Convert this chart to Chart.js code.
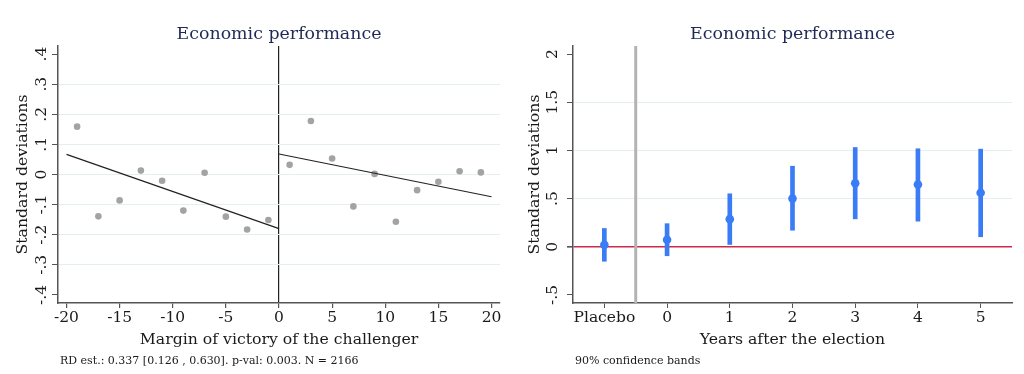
<!DOCTYPE html>
<html>
<head>
<meta charset="utf-8">
<script src="https://cdn.jsdelivr.net/npm/chart.js@4/dist/chart.umd.min.js"></script>
<style>
  html, body { margin: 0; padding: 0; background: #ffffff; }
  #wrap { position: relative; width: 1024px; height: 374px; overflow: hidden; }
  .panel { position: absolute; top: 0; width: 512px; height: 374px; }
  #p1 { left: 0; }
  #p2 { left: 512px; }
</style>
</head>
<body>
<div id="wrap">
  <div class="panel" id="p1"><canvas id="c1" width="512" height="374"></canvas></div>
  <div class="panel" id="p2"><canvas id="c2" width="512" height="374"></canvas></div>
</div>
<script>
// ---------- Left panel data (RD plot) ----------
const chartTitle = "Economic performance";
const leftBinX  = [-19, -17, -15, -13, -11, -9, -7, -5, -3, -1];
const leftBinY  = [0.159, -0.139, -0.086, 0.013, -0.021, -0.120, 0.006, -0.140, -0.183, -0.151];
const rightBinX = [1, 3, 5, 7, 9, 11, 13, 15, 17, 19];
const rightBinY = [0.032, 0.178, 0.053, -0.106, 0.002, -0.157, -0.052, -0.024, 0.011, 0.007];
const leftFitX  = [-20, 0];
const leftFitY  = [0.067, -0.180];
const rightFitX = [0, 20];
const rightFitY = [0.068, -0.074];
const rdXTicks  = [-20, -15, -10, -5, 0, 5, 10, 15, 20];
const rdYTicks  = [-0.4, -0.3, -0.2, -0.1, 0, 0.1, 0.2, 0.3, 0.4];
const rdYTickLabels = ["-.4", "-.3", "-.2", "-.1", "0", ".1", ".2", ".3", ".4"];
const rdXTitle  = "Margin of victory of the challenger";
const yTitle    = "Standard deviations";
const rdNote    = "RD est.: 0.337 [0.126 , 0.630]. p-val: 0.003. N = 2166";

// ---------- Right panel data (event-study estimates) ----------
const yearCategories = ["Placebo", "0", "1", "2", "3", "4", "5"];
const yearEstimate   = [0.020, 0.073, 0.287, 0.500, 0.660, 0.646, 0.560];
const yearCILow      = [-0.150, -0.093, 0.024, 0.172, 0.290, 0.266, 0.104];
const yearCIHigh     = [0.190, 0.240, 0.550, 0.836, 1.030, 1.017, 1.013];
const esYTicks       = [-0.5, 0, 0.5, 1, 1.5, 2];
const esYTickLabels  = ["-.5", "0", ".5", "1", "1.5", "2"];
const esXTitle       = "Years after the election";
const esNote         = "90% confidence bands";

// ---------- Styling ----------
const SERIF = "'DejaVu Serif', 'Liberation Serif', serif";
const AXIS_COLOR = "#555555";
const GRID_COLOR = "#e6eff0";
const TEXT_COLOR = "#1a1a1a";
const TITLE_COLOR = "#1f2a55";
const BLUE = "#3a7cf6";
const TICK_SIZE = 15.5;
const AXIS_TITLE_SIZE = 15.7;

// plugin: title over plot area, rotated y tick labels, note, reference lines
const panelDecor = {
  id: 'panelDecor',
  beforeDatasetsDraw(chart) {
    const o = chart.options.plugins.panelDecor;
    const {ctx, chartArea} = chart;
    if (o.vLine !== undefined) {
      const xs = chart.scales.x;
      const px = xs.getPixelForValue(o.vLine);
      ctx.save();
      ctx.strokeStyle = o.vLineColor;
      ctx.lineWidth = o.vLineWidth;
      ctx.beginPath();
      ctx.moveTo(px, chartArea.top);
      ctx.lineTo(px, chartArea.bottom);
      ctx.stroke();
      ctx.restore();
    }
  },
  afterDraw(chart) {
    const o = chart.options.plugins.panelDecor;
    const {ctx, chartArea} = chart;
    const ys = chart.scales.y;
    ctx.save();
    // title
    ctx.fillStyle = TITLE_COLOR;
    ctx.font = "17.4px " + SERIF;
    ctx.textAlign = 'center';
    ctx.textBaseline = 'alphabetic';
    ctx.fillText(o.title, (chartArea.left + chartArea.right) / 2, 38.5);
    // rotated y tick labels
    ctx.fillStyle = TEXT_COLOR;
    ctx.font = TICK_SIZE + "px " + SERIF;
    ctx.textBaseline = 'middle';
    ys.ticks.forEach((t, i) => {
      const py = ys.getPixelForValue(t.value);
      ctx.save();
      ctx.translate(o.yLabelX, py);
      ctx.rotate(-Math.PI / 2);
      ctx.textAlign = 'center';
      ctx.fillText(o.yLabels[i], 0, 0);
      ctx.restore();
    });
    // note
    ctx.font = "11px " + SERIF;
    ctx.textAlign = 'left';
    ctx.textBaseline = 'alphabetic';
    ctx.fillStyle = TEXT_COLOR;
    ctx.fillText(o.note, o.noteX, 364);
    ctx.restore();
  }
};

function yScale(min, max, ticks, zeroColor, innerTicks) {
  return {
    type: 'linear', min: min, max: max,
    afterBuildTicks: s => { s.ticks = ticks.map(v => ({ value: v })); },
    afterFit: s => { s.width = s.options._w; },
    ticks: { display: false },
    grid: {
      drawOnChartArea: true,
      offset: false,
      color: c => {
        if (!c.tick) return 'rgba(0,0,0,0)';
        if (zeroColor && c.tick.value === 0) return zeroColor;
        return innerTicks.includes(c.tick.value) ? GRID_COLOR : 'rgba(0,0,0,0)';
      },
      lineWidth: c => (zeroColor && c.tick && c.tick.value === 0) ? 1.6 : 1,
      tickColor: AXIS_COLOR,
      tickLength: 6,
      drawTicks: true
    },
    border: { display: true, color: AXIS_COLOR, width: 1.5 },
    title: {
      display: true, text: yTitle, color: TEXT_COLOR,
      font: { family: SERIF, size: AXIS_TITLE_SIZE },
      padding: { top: 14, bottom: 0 }
    }
  };
}

// ---------------- Left chart ----------------
const leftYS = yScale(-0.427, 0.427, rdYTicks, null, rdYTicks.slice(1, -1));
leftYS._w = 58;
new Chart(document.getElementById('c1'), {
  type: 'scatter',
  data: {
    datasets: [
      { type: 'line', data: leftFitX.map((x, i) => ({ x, y: leftFitY[i] })),
        borderColor: '#222222', borderWidth: 1.2, pointRadius: 0, fill: false, order: 1 },
      { type: 'line', data: rightFitX.map((x, i) => ({ x, y: rightFitY[i] })),
        borderColor: '#222222', borderWidth: 1.2, pointRadius: 0, fill: false, order: 1 },
      { type: 'scatter', data: leftBinX.map((x, i) => ({ x, y: leftBinY[i] })),
        pointRadius: 3.3, pointBackgroundColor: '#a3a3a3', pointBorderWidth: 0, order: 2 },
      { type: 'scatter', data: rightBinX.map((x, i) => ({ x, y: rightBinY[i] })),
        pointRadius: 3.3, pointBackgroundColor: '#a3a3a3', pointBorderWidth: 0, order: 2 }
    ]
  },
  options: {
    responsive: false, animation: false, devicePixelRatio: 1,
    layout: { padding: { top: 46, right: 12, left: 0, bottom: 0 } },
    plugins: {
      legend: { display: false }, tooltip: { enabled: false },
      panelDecor: { title: chartTitle, yLabels: rdYTickLabels, yLabelX: 41.5, note: rdNote, noteX: 60 }
    },
    scales: {
      x: {
        type: 'linear', min: -20.8, max: 20.8,
        afterBuildTicks: s => { s.ticks = rdXTicks.map(v => ({ value: v })); },
        afterFit: s => { s.height = 71; },
        ticks: { color: TEXT_COLOR, font: { family: SERIF, size: TICK_SIZE }, padding: 1,
                 callback: v => String(v) },
        grid: {
          drawOnChartArea: true,
          offset: false,
          color: c => (c.tick && c.tick.value === 0) ? '#222222' : 'rgba(0,0,0,0)',
          lineWidth: 1.2,
          tickColor: AXIS_COLOR, tickLength: 5
        },
        border: { display: true, color: AXIS_COLOR, width: 1.5 },
        title: { display: true, text: rdXTitle, color: TEXT_COLOR,
                 font: { family: SERIF, size: AXIS_TITLE_SIZE }, padding: { top: 0, bottom: 25 } }
      },
      y: leftYS
    }
  },
  plugins: [panelDecor]
});

// ---------------- Right chart ----------------
const yearPos = yearCategories.map((c, i) => i - 1);
const rightYS = yScale(-0.583, 2.083, esYTicks, '#cc2a48', esYTicks.slice(1, -1));
rightYS._w = 61;
new Chart(document.getElementById('c2'), {
  type: 'scatter',
  data: {
    datasets: [
      { type: 'bar', data: yearPos.map((x, i) => ({ x, y: [yearCILow[i], yearCIHigh[i]] })),
        backgroundColor: BLUE, borderWidth: 0, barThickness: 4, grouped: false, order: 2 },
      { type: 'scatter', data: yearPos.map((x, i) => ({ x, y: yearEstimate[i] })),
        pointRadius: 4.3, pointBackgroundColor: BLUE, pointBorderWidth: 0, order: 1 }
    ]
  },
  options: {
    responsive: false, animation: false, devicePixelRatio: 1,
    layout: { padding: { top: 46, right: 12, left: 0, bottom: 0 } },
    plugins: {
      legend: { display: false }, tooltip: { enabled: false },
      panelDecor: { title: chartTitle, yLabels: esYTickLabels, yLabelX: 41, note: esNote, noteX: 63,
                    vLine: -0.5, vLineColor: '#b3b3b3', vLineWidth: 3 }
    },
    scales: {
      x: {
        type: 'linear', min: -1.5, max: 5.5, offset: false,
        afterBuildTicks: s => { s.ticks = yearPos.map(v => ({ value: v })); },
        afterFit: s => { s.height = 71; },
        ticks: { color: TEXT_COLOR, font: { family: SERIF, size: TICK_SIZE }, padding: 1,
                 callback: v => yearCategories[yearPos.indexOf(v)] },
        grid: { drawOnChartArea: false, offset: false, tickColor: AXIS_COLOR, tickLength: 5 },
        border: { display: true, color: AXIS_COLOR, width: 1.5 },
        title: { display: true, text: esXTitle, color: TEXT_COLOR,
                 font: { family: SERIF, size: AXIS_TITLE_SIZE }, padding: { top: 0, bottom: 25 } }
      },
      y: rightYS
    }
  },
  plugins: [panelDecor]
});
</script>
</body>
</html>
